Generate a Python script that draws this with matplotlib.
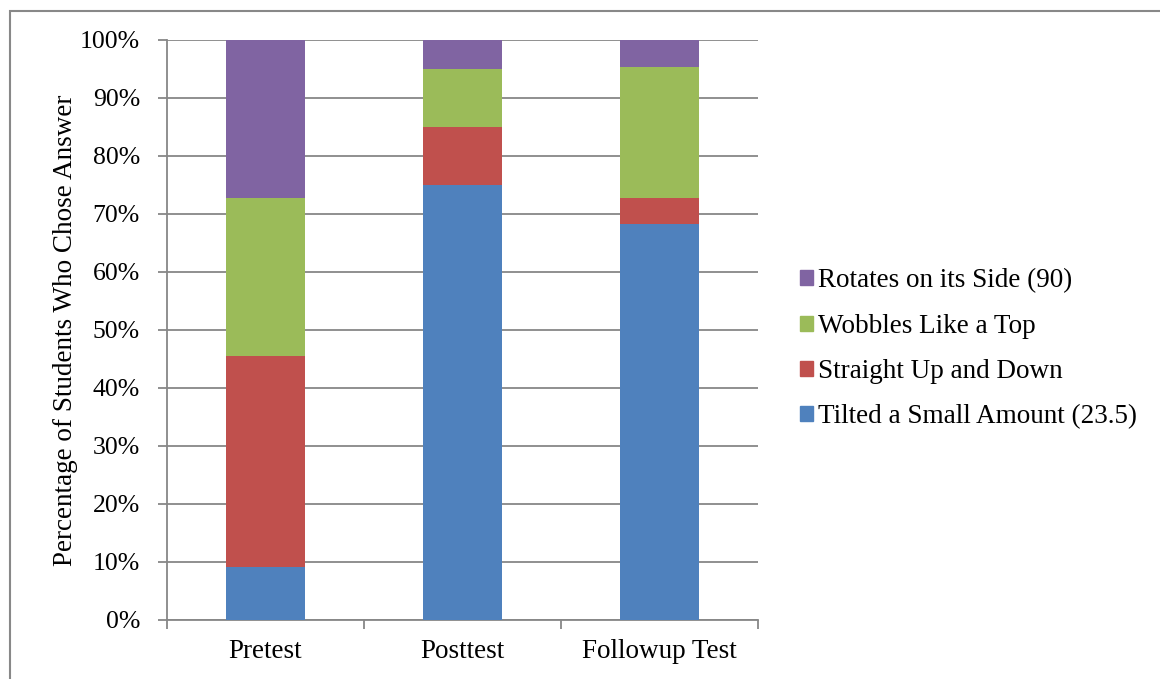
import matplotlib
matplotlib.use("Agg")
import matplotlib.pyplot as plt
from matplotlib.patches import Rectangle, Patch
import numpy as np

categories = ["Pretest", "Posttest", "Followup Test"]
series_names = ["Tilted a Small Amount (23.5)", "Straight Up and Down",
                "Wobbles Like a Top", "Rotates on its Side (90)"]
tilted = [9.1, 75.0, 68.2]
straight = [36.4, 10.0, 4.5]
wobbles = [27.3, 10.0, 22.7]
rotates = [27.3, 5.0, 4.6]
colors = ["#4F81BD", "#C0504D", "#9BBB59", "#8064A2"]
yticks = [0, 10, 20, 30, 40, 50, 60, 70, 80, 90, 100]

plt.rcParams['font.family'] = ['Liberation Serif', 'DejaVu Serif']
FS = 19.5
W, H = 1160, 679
fig = plt.figure(figsize=(W/100, H/100), dpi=100)
ax = fig.add_axes([167/W, 1-620/H, (758-167)/W, 580/H])

x = np.arange(len(categories))
bottom = np.zeros(len(categories))
series = [tilted, straight, wobbles, rotates]
for vals, c, name in zip(series, colors, series_names):
    ax.bar(x, vals, 0.4, bottom=bottom, color=c, label=name, zorder=3)
    bottom += np.array(vals)

ax.set_xlim(-0.5, 2.5)
ax.set_ylim(0, 100)
ax.set_yticks(yticks)
ax.set_yticklabels([f"{t}%" for t in yticks], fontsize=18.5)
ax.yaxis.grid(True, color="#878787", linewidth=1.3, zorder=0)
ax.tick_params(axis='y', length=6.5, width=1.3, color="#878787", pad=13)
ax.set_xticks(x)
ax.set_xticklabels(categories, fontsize=FS)
ax.set_xticks([-0.5, 0.5, 1.5, 2.5], minor=True)
ax.tick_params(axis='x', which='major', length=0, pad=14)
ax.tick_params(axis='x', which='minor', length=6.5, width=1.3, color="#878787")
for s in ["top", "right"]:
    ax.spines[s].set_visible(False)
for s in ["left", "bottom"]:
    ax.spines[s].set_color("#878787")
    ax.spines[s].set_linewidth(1.3)
ax.set_ylabel("Percentage of Students Who Chose Answer", fontsize=FS, labelpad=1.5)

handles = [Patch(color=c, label=n) for c, n in zip(colors, series_names)][::-1]
fig.legend(handles=handles, loc="center left", bbox_to_anchor=(786/W, 1-349/H),
           frameon=False, fontsize=FS, handlelength=0.48, handleheight=0.48,
           handletextpad=0.22, labelspacing=0.75, borderpad=0)

fig.patches.append(Rectangle((10/W, -0.1), 1.2, 1.1 - 11/H, transform=fig.transFigure,
                             fill=False, edgecolor="#888888", linewidth=1.5))
fig.savefig("out.png", dpi=100)
